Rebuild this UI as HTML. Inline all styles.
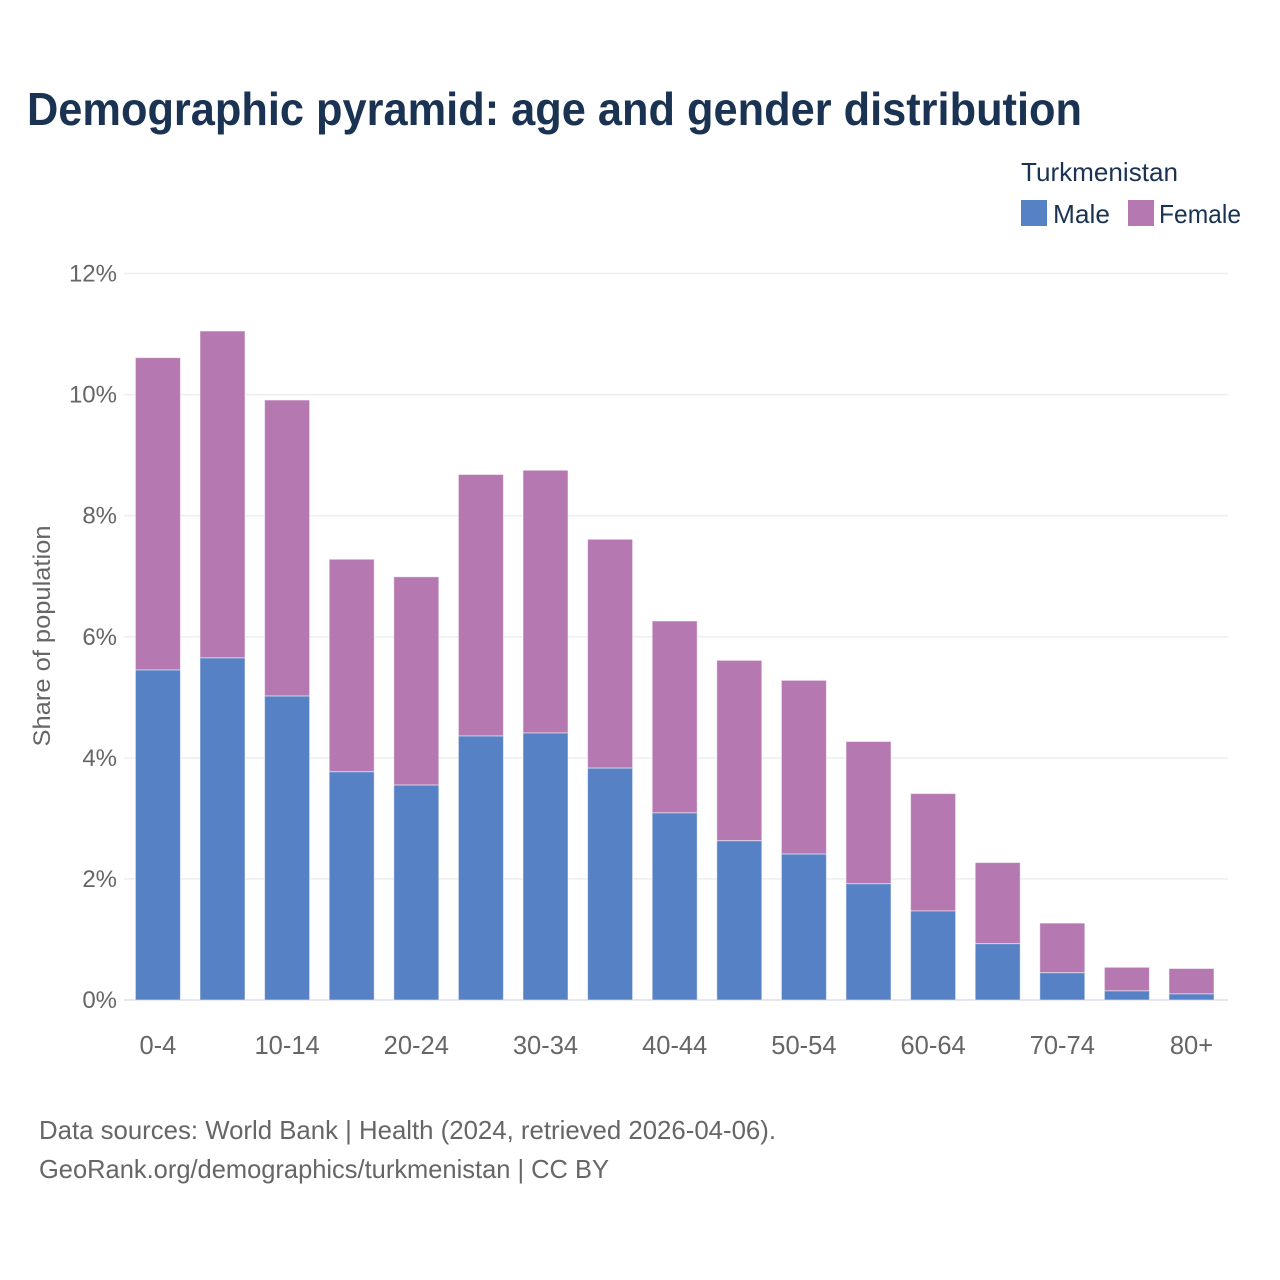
<!DOCTYPE html>
<html lang="en">
<head>
<meta charset="utf-8">
<title>Demographic pyramid: age and gender distribution</title>
<style>
html,body{margin:0;padding:0;background:#fff;}
svg{display:block;font-family:"Liberation Sans",sans-serif;}
</style>
</head>
<body>
<svg id="chart" width="1280" height="1280" viewBox="0 0 1280 1280" xmlns="http://www.w3.org/2000/svg">
  <rect width="1280" height="1280" fill="#fff"/>
  <text x="27" y="125" font-size="46" font-weight="700" fill="#1a3352" textLength="1055" lengthAdjust="spacingAndGlyphs">Demographic pyramid: age and gender distribution</text>
  <text x="1021" y="181" font-size="26" fill="#1a3352" textLength="157" lengthAdjust="spacingAndGlyphs">Turkmenistan</text>
  <g>
    <rect x="1021" y="200" width="26" height="26" fill="#5681c4"/>
    <text x="1053" y="223" font-size="26" fill="#1a3352" textLength="57" lengthAdjust="spacingAndGlyphs">Male</text>
  </g>
  <g>
    <rect x="1128" y="200" width="26" height="26" fill="#b578b1"/>
    <text x="1159" y="223" font-size="26" fill="#1a3352" textLength="82" lengthAdjust="spacingAndGlyphs">Female</text>
  </g>
  <g id="grid"></g>
  <g id="yticks"></g>
  <g id="bars"></g>
  <g id="xticks"></g>
  <text transform="translate(50,636) rotate(-90)" text-anchor="middle" font-size="24.5" fill="#666" textLength="221" lengthAdjust="spacingAndGlyphs">Share of population</text>
  <text x="39" y="1139" font-size="26" fill="#666" textLength="737" lengthAdjust="spacingAndGlyphs">Data sources: World Bank | Health (2024, retrieved 2026-04-06).</text>
  <text x="39" y="1178" font-size="26" fill="#666" textLength="570" lengthAdjust="spacingAndGlyphs">GeoRank.org/demographics/turkmenistan | CC BY</text>
</svg>
<script>
const categories = ["0-4","5-9","10-14","15-19","20-24","25-29","30-34","35-39","40-44","45-49","50-54","55-59","60-64","65-69","70-74","75-79","80+"];
const xTickLabels = ["0-4","10-14","20-24","30-34","40-44","50-54","60-64","70-74","80+"];
const male = [5.45,5.65,5.02,3.77,3.55,4.36,4.41,3.83,3.09,2.63,2.41,1.92,1.47,0.93,0.45,0.15,0.10];
const female = [5.16,5.40,4.89,3.51,3.44,4.32,4.34,3.78,3.17,2.98,2.87,2.35,1.94,1.34,0.82,0.39,0.42];
const yTicks = [0,2,4,6,8,10,12];

const NS = "http://www.w3.org/2000/svg";
const plotLeft = 125.6, plotRight = 1223.8, gridLeft = 124, gridRight = 1228;
const yBase = 1000, yTop = 273.5, yMax = 12;
const bandWidth = (plotRight - plotLeft) / categories.length;
const barWidth = 45;
const xCenter = i => plotLeft + bandWidth * (i + 0.5);
const yScale = v => yBase - (v / yMax) * (yBase - yTop);

const grid = document.getElementById("grid");
const yLabels = document.getElementById("yticks");
yTicks.forEach(t => {
  const line = document.createElementNS(NS, "line");
  
  
  line.setAttribute("x1", gridLeft);
  line.setAttribute("x2", gridRight);
  line.setAttribute("y1", yScale(t));
  line.setAttribute("y2", yScale(t));
  line.setAttribute("stroke", t === 0 ? "#e6e6ee" : "#eeeef1");
  line.setAttribute("stroke-width", t === 0 ? 2 : 1.5);
  grid.appendChild(line);

  const label = document.createElementNS(NS, "text");
  
  
  label.setAttribute("x", 117);
  label.setAttribute("y", yScale(t) + 8);
  label.setAttribute("text-anchor", "end");
  label.setAttribute("font-size", 24);
  label.setAttribute("fill", "#666");
  label.textContent = t + "%";
  yLabels.appendChild(label);
});

const bars = document.getElementById("bars");
categories.forEach((c, i) => {
  const total = male[i] + female[i];
  const femaleBar = document.createElementNS(NS, "rect");
  
  
  femaleBar.setAttribute("x", xCenter(i) - barWidth / 2);
  femaleBar.setAttribute("y", yScale(total));
  femaleBar.setAttribute("width", barWidth);
  femaleBar.setAttribute("height", yScale(male[i]) - yScale(total));
  femaleBar.setAttribute("fill", "#b578b1");
  femaleBar.setAttribute("stroke", "#fff");
  femaleBar.setAttribute("stroke-opacity", "0.5");
  femaleBar.setAttribute("stroke-width", "1");
  bars.appendChild(femaleBar);

  const maleBar = document.createElementNS(NS, "rect");
  
  
  maleBar.setAttribute("x", xCenter(i) - barWidth / 2);
  maleBar.setAttribute("y", yScale(male[i]));
  maleBar.setAttribute("width", barWidth);
  maleBar.setAttribute("height", yBase - yScale(male[i]));
  maleBar.setAttribute("fill", "#5681c4");
  maleBar.setAttribute("stroke", "#fff");
  maleBar.setAttribute("stroke-opacity", "0.5");
  maleBar.setAttribute("stroke-width", "1");
  bars.appendChild(maleBar);

  if (xTickLabels.includes(c)) {
    const label = document.createElementNS(NS, "text");
    
    
    label.setAttribute("x", xCenter(i));
    label.setAttribute("y", 1054);
    label.setAttribute("text-anchor", "middle");
    label.setAttribute("font-size", 25.5);
    label.setAttribute("fill", "#666");
    label.textContent = c;
    document.getElementById("xticks").appendChild(label);
  }
});
</script>
</body>
</html>
